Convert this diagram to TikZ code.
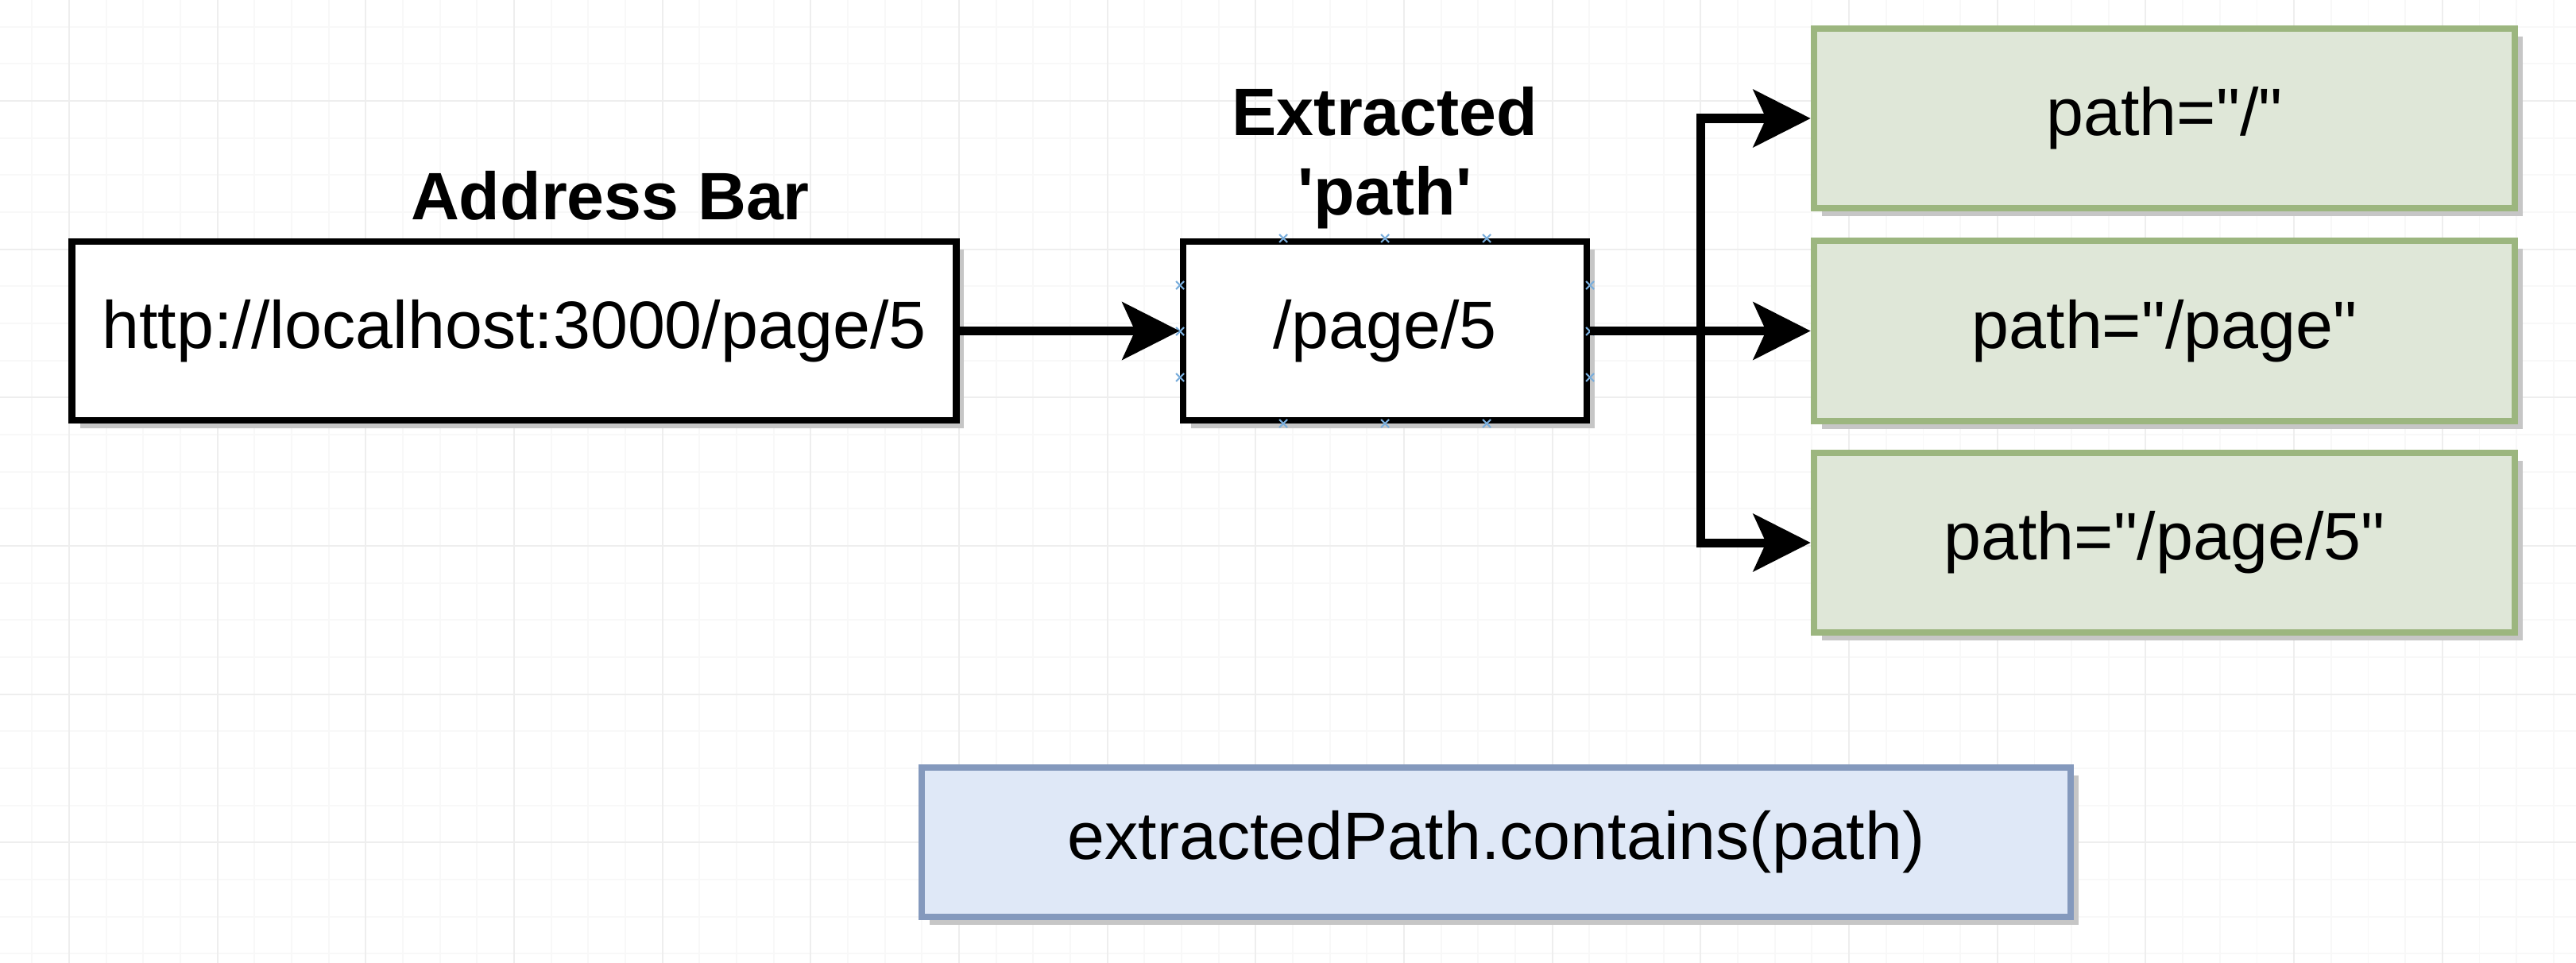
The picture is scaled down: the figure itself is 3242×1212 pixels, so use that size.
\documentclass[tikz,border=0pt]{standalone}
\usepackage{fontspec}
\setmainfont{Liberation Sans}[Ligatures=TeXOff]
\usetikzlibrary{arrows.meta,shadows}
\definecolor{gminor}{HTML}{F8F8F8}
\definecolor{gmajor}{HTML}{EEEEEE}
\definecolor{greenfill}{HTML}{DFE7D8}
\definecolor{greenline}{HTML}{9CB67F}
\definecolor{bluefill}{HTML}{DFE8F7}
\definecolor{blueline}{HTML}{8499BD}
\definecolor{shadowgray}{HTML}{C6C6C6}
\definecolor{markblue}{HTML}{7AAEDC}
\newcommand{\dq}{\symbol{34}}
\newcommand{\sq}{\symbol{39}}
\tikzset{
  txt/.style={font=\fontsize{24}{29}\selectfont, align=center},
  lbl/.style={font=\bfseries\fontsize{24}{28.5}\selectfont, align=center, inner sep=0pt},
  boxshadow/.style={general shadow={shadow xshift=0.1cm, shadow yshift=-0.1cm, fill=shadowgray}},
  plainbox/.style={txt, draw=black, fill=white, line width=0.085cm, boxshadow},
  greenbox/.style={txt, draw=greenline, fill=greenfill, line width=0.08cm, boxshadow, minimum width=8.82cm, minimum height=2.26cm},
  bluebox/.style={txt, draw=blueline, fill=bluefill, line width=0.08cm, boxshadow},
  conn/.style={line width=0.11cm, line join=miter, -{Stealth[length=0.72cm, width=0.72cm, inset=0.16cm]}},
  cmark/.style={draw=markblue, line width=0.6pt},
}
\begin{document}
\begin{tikzpicture}[x=0.01cm, y=-0.01cm]
  \useasboundingbox (0,0) rectangle (3242,1212);
  \fill[white] (0,0) rectangle (3242,1212);
  % grid
  \foreach \k in {-1,...,68} {
    \pgfmathsetmacro{\xx}{87+46.667*\k}
    \draw[gminor, line width=0.5pt] (\xx,0) -- (\xx,1212);
  }
  \foreach \k in {-2,...,24} {
    \pgfmathsetmacro{\yy}{127+46.667*\k}
    \draw[gminor, line width=0.5pt] (0,\yy) -- (3242,\yy);
  }
  \foreach \k in {0,...,17} {
    \pgfmathsetmacro{\xx}{87+186.667*\k}
    \draw[gmajor, line width=0.6pt] (\xx,0) -- (\xx,1212);
  }
  \foreach \k in {0,...,6} {
    \pgfmathsetmacro{\yy}{127+186.667*\k}
    \draw[gmajor, line width=0.6pt] (0,\yy) -- (3242,\yy);
  }

  % boxes
  \node[plainbox, minimum width=11.12cm, minimum height=2.25cm] (addr) at (647,416.5) {http://localhost:3000/page/5};
  \node[plainbox, minimum width=5.08cm, minimum height=2.25cm] (path) at (1743,416.5) {/page/5};
  \node[greenbox] (g1) at (2724,149) {path=\dq/\dq};
  \node[greenbox] (g2) at (2724,416.5) {path=\dq/page\dq};
  \node[greenbox] (g3) at (2724,683) {path=\dq/page/5\dq};
  \node[bluebox, minimum width=14.46cm, minimum height=1.87cm] (blue) at (1883,1060) {extractedPath.contains(path)};

  % labels
  \node[lbl] (addrlbl) at (768,246) {Address Bar};
  \node[lbl] (pathlbl) at (1743,199) {Extracted\\\sq path\sq};

  % connection markers on the selected box
  \foreach \px/\py in {1615/300,1743/300,1871/300,1615/533,1743/533,1871/533,1485/359,1485/417,1485/475,2001/359,2001/417,2001/475} {
    \draw[cmark] (\px-5,\py-5) -- (\px+5,\py+5) (\px-5,\py+5) -- (\px+5,\py-5);
  }

  % connectors
  \coordinate (br) at (2140,416.5);
  \draw[conn] (addr.east) -- (path.west);
  \draw[conn] (path.east) -- (g2.west);
  \draw[conn] (br) |- (g1.west);
  \draw[conn] (br) |- (g3.west);
\end{tikzpicture}
\end{document}
